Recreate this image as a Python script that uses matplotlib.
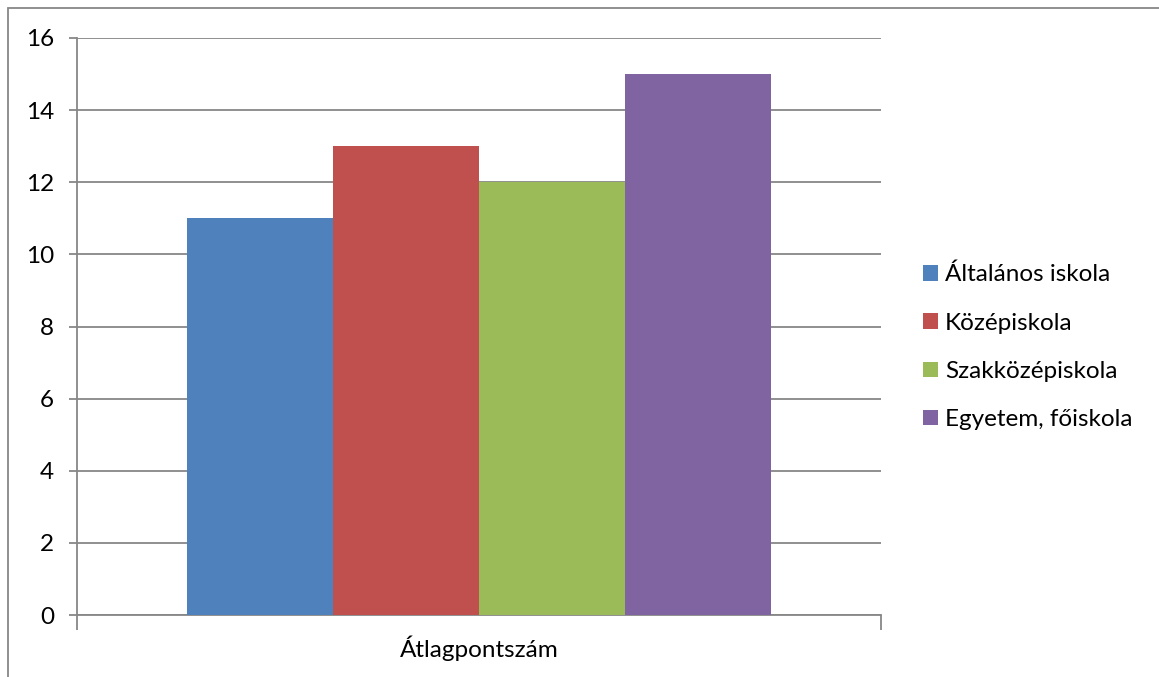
import matplotlib
matplotlib.use("Agg")
import matplotlib.pyplot as plt
from matplotlib.patches import Rectangle

plt.rcParams['font.family'] = ['Lato', 'DejaVu Sans']

series = ["Általános iskola", "Középiskola", "Szakközépiskola", "Egyetem, főiskola"]
values = [11, 13, 12, 15]
colors = ["#4F81BD", "#C0504D", "#9BBB59", "#8064A2"]
category = "Átlagpontszám"
yticks = [0, 2, 4, 6, 8, 10, 12, 14, 16]

W, H = 1159, 677
fig = plt.figure(figsize=(W / 100, H / 100), dpi=100)
ax = fig.add_axes([77 / W, 1 - 615 / H, (881 - 77) / W, (615 - 38) / H])

gray = "#878787"
fs = 17.5
bw = 146 / 804
n = len(values)
for i, (s, v, c) in enumerate(zip(series, values, colors)):
    x = (i - (n - 1) / 2) * bw
    ax.bar(x, v, width=bw, color=c, label=s, zorder=3)

ax.set_xlim(-0.5, 0.5)
ax.set_ylim(0, 16)
ax.set_yticks(yticks)
ax.set_yticklabels([str(t) for t in yticks], fontsize=fs, color="black")
ax.yaxis.grid(True, color=gray, linewidth=1.3, zorder=0)
ax.tick_params(axis='y', length=6, width=1.3, color=gray, pad=10.5)

ax.set_xticks([-0.5, 0.5])
ax.set_xticklabels(["", ""])
ax.tick_params(axis='x', which='major', length=11, width=1.3, color=gray)
ax.set_xticks([0], minor=True)
ax.set_xticklabels([category], minor=True, fontsize=fs)
ax.tick_params(axis='x', which='minor', length=0, pad=15)

for side in ["top", "right"]:
    ax.spines[side].set_visible(False)
for side in ["left", "bottom"]:
    ax.spines[side].set_color(gray)
    ax.spines[side].set_linewidth(1.3)

leg = ax.legend(loc="center left", bbox_to_anchor=(911 / W, 1 - 347 / H),
                bbox_transform=fig.transFigure, frameon=False, fontsize=fs,
                handlelength=0.6, handleheight=0.6, handletextpad=0.3,
                labelspacing=1.12, borderpad=0)

fig.patches.append(Rectangle((8 / W, -0.1), 1.2, 1 - 8 / H + 0.1,
                             transform=fig.transFigure, fill=False,
                             edgecolor=gray, linewidth=1.3, zorder=0))

fig.savefig("out.png", dpi=100)
